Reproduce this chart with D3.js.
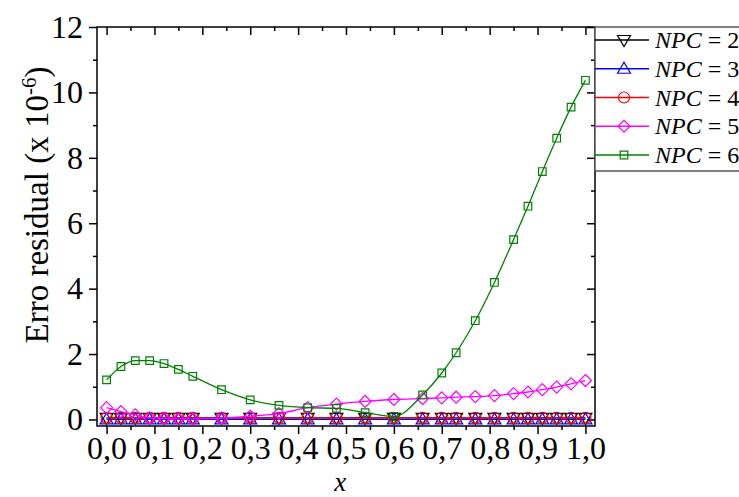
<!DOCTYPE html>
<html><head><meta charset="utf-8">
<script src="https://cdn.jsdelivr.net/npm/d3@7"></script>
<style>body{margin:0;background:#fff}svg{display:block}</style>
</head><body>
<svg id="c" width="739" height="497"></svg>
<script>
const xValues = [0, 0.03, 0.06, 0.09, 0.12, 0.15, 0.18, 0.24, 0.30, 0.36, 0.42, 0.48, 0.54, 0.60, 0.66, 0.70, 0.73, 0.77, 0.81, 0.85, 0.88, 0.91, 0.94, 0.97, 1.0];
const npc2 = [0.05,0.05,0.05,0.05,0.05,0.05,0.05,0.05,0.05,0.05,0.05,0.05,0.05,0.05,0.05,0.05,0.05,0.05,0.05,0.05,0.05,0.05,0.05,0.05,0.05];
const npc3 = [0.0,0.0,0.0,0.0,0.0,0.0,0.0,0.0,0.0,0.0,0.0,0.0,0.0,0.0,0.0,0.0,0.0,0.0,0.0,0.0,0.0,0.0,0.0,0.0,0.0];
const npc4 = [0.05,0.05,0.05,0.05,0.05,0.05,0.05,0.05,0.05,0.05,0.05,0.05,0.05,0.05,0.05,0.05,0.05,0.05,0.05,0.05,0.05,0.05,0.05,0.05,0.05];
const npc5 = [0.36,0.24,0.14,0.04,0.03,0.02,0.02,0.04,0.10,0.18,0.36,0.47,0.55,0.61,0.64,0.66,0.68,0.70,0.73,0.79,0.84,0.91,0.99,1.09,1.19];
const npc6 = [1.21,1.62,1.80,1.80,1.71,1.53,1.32,0.91,0.60,0.43,0.36,0.34,0.21,0.09,0.75,1.42,2.04,3.02,4.19,5.50,6.52,7.58,8.60,9.55,10.37];
const seriesNames = ["NPC = 2","NPC = 3","NPC = 4","NPC = 5","NPC = 6"];
const seriesValues = [npc2, npc3, npc4, npc5, npc6];
const seriesColors = ["#000000","#0000ff","#ff0000","#ff00ff","#008000"];
const seriesShapes = ["triDown","triUp","circle","diamond","square"];
const xTicks = [0,0.1,0.2,0.3,0.4,0.5,0.6,0.7,0.8,0.9,1.0];
const yTicks = [0,2,4,6,8,10,12];

const svg = d3.select("#c");
const L = 97, R = 595, T = 27, B = 426;
const x = d3.scaleLinear().domain([-0.02, 1.02]).range([L, R]);
const y = d3.scaleLinear().domain([-0.2, 12]).range([B, T]);
const font = "Liberation Serif";

function shapePath(s){
  switch(s){
    case "triDown": return "M-6.5,-4.5L6.5,-4.5L0,6.5Z";
    case "triUp": return "M-6.5,4.5L6.5,4.5L0,-6.5Z";
    case "circle": return "M5.5,0A5.5,5.5 0 1 1 -5.5,0A5.5,5.5 0 1 1 5.5,0Z";
    case "diamond": return "M0,-6L6,0L0,6L-6,0Z";
    case "square": return "M-3.8,-3.8H3.8V3.8H-3.8Z";
  }
}

const xMinor = d3.range(0, 1.0001, 0.05).filter(v => Math.abs(v*10 - Math.round(v*10)) > 1e-6);
const yMinor = [1,3,5,7,9,11];

svg.append("g").attr("transform",`translate(0,${B})`)
  .call(d3.axisBottom(x).tickValues(xTicks).tickSize(8).tickPadding(2).tickFormat(d => d3.format(".1f")(d).replace(".", ",")));
svg.append("g").attr("transform",`translate(0,${B})`)
  .call(d3.axisBottom(x).tickValues(xMinor).tickSize(4).tickFormat(""));
svg.append("g").attr("transform",`translate(0,${T})`)
  .call(d3.axisBottom(x).tickValues(xTicks).tickSize(8).tickFormat(""));
svg.append("g").attr("transform",`translate(0,${T})`)
  .call(d3.axisBottom(x).tickValues(xMinor).tickSize(4).tickFormat(""));
svg.append("g").attr("transform",`translate(${L},0)`)
  .call(d3.axisLeft(y).tickValues(yTicks).tickSize(8).tickPadding(6).tickFormat(d3.format("d")));
svg.append("g").attr("transform",`translate(${L},0)`)
  .call(d3.axisLeft(y).tickValues(yMinor).tickSize(4).tickFormat(""));
svg.append("g").attr("transform",`translate(${R},0)`)
  .call(d3.axisLeft(y).tickValues(yTicks).tickSize(8).tickFormat(""));
svg.append("g").attr("transform",`translate(${R},0)`)
  .call(d3.axisLeft(y).tickValues(yMinor).tickSize(4).tickFormat(""));

svg.selectAll(".domain").remove();
svg.selectAll(".tick line").attr("stroke","#000").attr("stroke-width",1.5);
svg.selectAll(".tick text").attr("font-family",font).attr("font-size",32).attr("fill","#000");

svg.append("rect").attr("x",L).attr("y",T).attr("width",R-L).attr("height",B-T)
  .attr("fill","none").attr("stroke","#000").attr("stroke-width",1.5);

const line = d3.line().x((d,i)=>x(xValues[i])).y(d=>y(d)).curve(d3.curveMonotoneX);
const plot = svg.append("g");
seriesValues.forEach((vals, k) => {
  const g = plot.append("g");
  g.append("path").datum(vals).attr("d", line).attr("fill","none")
    .attr("stroke", seriesColors[k]).attr("stroke-width",1.3);
  g.selectAll("path.m").data(vals).join("path").attr("class","m")
    .attr("d", shapePath(seriesShapes[k]))
    .attr("transform",(d,i)=>`translate(${x(xValues[i])},${y(d)})`)
    .attr("fill","none").attr("stroke", seriesColors[k]).attr("stroke-width",1.2);
});

const lg = svg.append("g");
lg.append("rect").attr("x",R).attr("y",T).attr("width",160).attr("height",144)
  .attr("fill","#fff").attr("stroke","#555").attr("stroke-width",1.5);
seriesNames.forEach((n,k) => {
  const ry = 40 + k*28.75;
  lg.append("line").attr("x1",R).attr("x2",649).attr("y1",ry).attr("y2",ry)
    .attr("stroke",seriesColors[k]).attr("stroke-width",1.3);
  lg.append("path").attr("d",shapePath(seriesShapes[k])).attr("transform",`translate(624,${ry})`)
    .attr("fill","none").attr("stroke",seriesColors[k]).attr("stroke-width",1.2);
  const t = lg.append("text").attr("x",655).attr("y",ry+8).attr("font-family",font).attr("font-size",24).attr("fill","#000");
  const parts = n.split(" ");
  t.append("tspan").attr("font-style","italic").text(parts[0]);
  t.append("tspan").text(" " + parts.slice(1).join(" "));
});

svg.append("text").attr("x", x(0.488)).attr("y", 491).attr("text-anchor","middle")
  .attr("font-family",font).attr("font-style","italic").attr("font-size",27).text("x");
const yt = svg.append("text").attr("transform",`translate(48,205) rotate(-90)`)
  .attr("text-anchor","middle").attr("font-family",font).attr("font-size",33);
yt.append("tspan").text("Erro residual (x 10");
yt.append("tspan").attr("baseline-shift","super").attr("font-size",21).text("-6");
yt.append("tspan").text(")");
</script>
</body></html>
